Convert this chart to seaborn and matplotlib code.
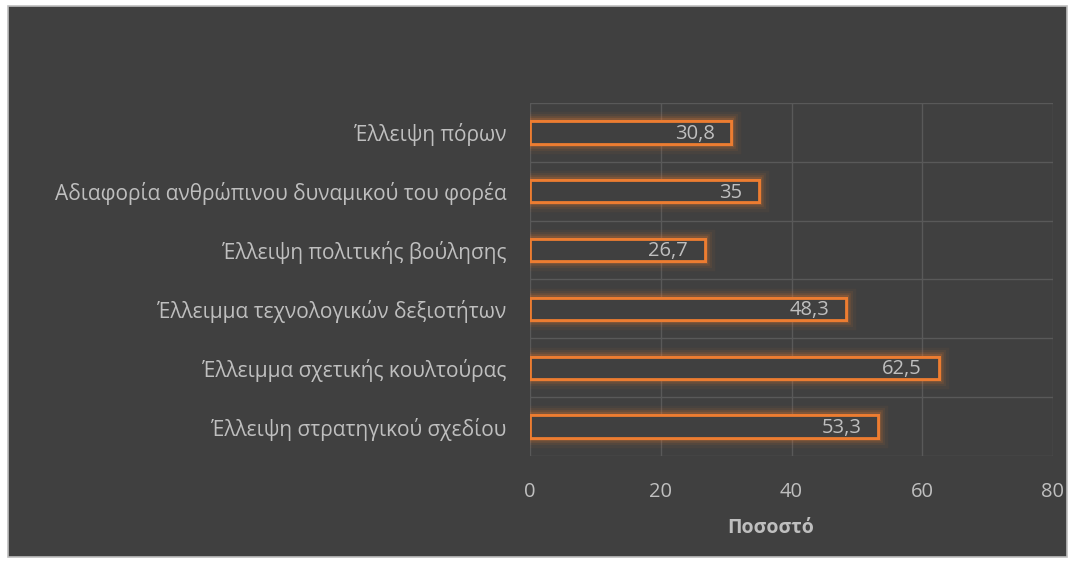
import matplotlib
matplotlib.use("Agg")
import matplotlib.pyplot as plt
import matplotlib.patheffects as pe
from matplotlib.patches import Rectangle
import seaborn as sns
import pandas as pd

categories = [
    "Έλλειψη πόρων",
    "Αδιαφορία ανθρώπινου δυναμικού του φορέα",
    "Έλλειψη πολιτικής βούλησης",
    "Έλλειμμα τεχνολογικών δεξιοτήτων",
    "Έλλειμμα σχετικής κουλτούρας",
    "Έλλειψη στρατηγικού σχεδίου",
]
values = [30.8, 35, 26.7, 48.3, 62.5, 53.3]
value_labels = ["30,8", "35", "26,7", "48,3", "62,5", "53,3"]
x_ticks = [0, 20, 40, 60, 80]
x_title = "Ποσοστό"

BG = "#404040"
ORANGE = "#ED7D31"
GRID = "#595959"
TEXT = "#bfbfbf"

sns.set_theme(style="white")
plt.rcParams["font.family"] = ["Open Sans", "DejaVu Sans"]

df = pd.DataFrame({"category": categories, "value": values})

fig = plt.figure(figsize=(10.73, 5.64), dpi=100)
fig.patch.set_facecolor("white")
# dark chart frame inside a thin light margin
fig.patches.append(Rectangle((0.007, 0.012), 0.987, 0.978, transform=fig.transFigure,
                             facecolor=BG, edgecolor="#bfbfbf", linewidth=1.2, zorder=-10))

ax = fig.add_axes([530 / 1073, 1 - 456 / 564, (1053 - 530) / 1073, (456 - 103) / 564])
ax.set_facecolor(BG)

sns.barplot(data=df, x="value", y="category", orient="h", ax=ax,
            width=0.38, facecolor=BG, edgecolor=ORANGE, linewidth=2.0, zorder=3)

# soft orange glow around each bar outline
glow = [
    pe.withStroke(linewidth=14, foreground=ORANGE, alpha=0.05),
    pe.withStroke(linewidth=10, foreground=ORANGE, alpha=0.08),
    pe.withStroke(linewidth=7, foreground=ORANGE, alpha=0.12),
    pe.withStroke(linewidth=4.5, foreground=ORANGE, alpha=0.2),
    pe.Normal(),
]
for patch in ax.patches:
    patch.set_path_effects(glow)

for patch, lab in zip(ax.patches, value_labels):
    x_end = patch.get_x() + patch.get_width()
    y_mid = patch.get_y() + patch.get_height() / 2
    ax.annotate(lab, (x_end, y_mid), xytext=(-12, -1), textcoords="offset points",
                ha="right", va="center", color=TEXT, fontsize=14.5, zorder=5)

ax.set_xlim(0, 80)
ax.set_ylim(len(categories) - 0.5, -0.5)
ax.set_xticks(x_ticks)
ax.set_xticklabels([str(t) for t in x_ticks])
ax.set_yticks(range(len(categories)))
ax.set_yticks([i + 0.5 for i in range(-1, len(categories))], minor=True)

ax.grid(axis="x", which="major", color=GRID, linewidth=1.0, zorder=0)
ax.grid(axis="y", which="minor", color=GRID, linewidth=1.0, zorder=0)
ax.grid(axis="y", which="major", visible=False)
ax.set_axisbelow(True)
for s in ax.spines.values():
    s.set_visible(False)

ax.tick_params(axis="both", which="both", length=0, colors=TEXT)
ax.tick_params(axis="x", pad=19, labelsize=14.5)
ax.tick_params(axis="y", pad=17, labelsize=15)
ax.set_ylabel("")
ax.set_xlabel(x_title, color=TEXT, fontsize=14, fontweight="bold", labelpad=11)
ax.xaxis.label.set_x(0.461)

fig.savefig("out.png", dpi=100, facecolor=fig.get_facecolor())
